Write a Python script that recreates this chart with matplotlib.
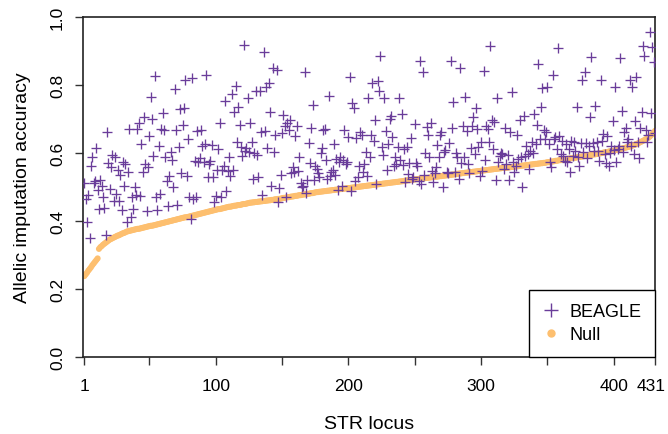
import matplotlib
matplotlib.use("Agg")
import matplotlib.pyplot as plt
import matplotlib.transforms as mtransforms
from matplotlib.lines import Line2D

plt.rcParams['font.family'] = ['Liberation Sans', 'DejaVu Sans']

# Null accuracy per STR locus (sorted)
null_acc = [
    0.238, 0.243, 0.248, 0.254, 0.259, 0.264, 0.270, 0.275, 0.280, 0.285, 0.290,
    0.318, 0.323, 0.326, 0.330, 0.333, 0.336, 0.339, 0.342, 0.345,
    0.347, 0.349, 0.351, 0.353, 0.355, 0.357, 0.358, 0.360, 0.362, 0.364, 0.365, 0.367, 0.369,
    0.370, 0.371, 0.372, 0.373, 0.374, 0.375, 0.376, 0.377, 0.377, 0.378, 0.379, 0.380,
    0.381, 0.382, 0.383, 0.384, 0.385, 0.386, 0.386, 0.387, 0.388, 0.389, 0.390, 0.391,
    0.392, 0.393, 0.394, 0.395, 0.396, 0.397, 0.398, 0.399, 0.400, 0.401, 0.402, 0.403, 0.404,
    0.405, 0.406, 0.407, 0.408, 0.409, 0.410, 0.411, 0.411, 0.412, 0.413, 0.414, 0.415, 0.416,
    0.417, 0.418, 0.419, 0.420, 0.421, 0.422, 0.423, 0.424, 0.425, 0.426, 0.427, 0.428,
    0.429, 0.430, 0.431, 0.432, 0.433, 0.434, 0.435, 0.435, 0.436, 0.437, 0.438, 0.439, 0.440,
    0.441, 0.442, 0.442, 0.443, 0.444, 0.445, 0.445, 0.446, 0.447, 0.447, 0.448, 0.449, 0.450,
    0.450, 0.451, 0.452, 0.453,
    0.454, 0.454, 0.455, 0.455, 0.456, 0.456, 0.457, 0.457, 0.458, 0.458, 0.459, 0.459, 0.460,
    0.460, 0.461, 0.461, 0.462, 0.462, 0.463, 0.464, 0.464, 0.465, 0.465, 0.466, 0.467,
    0.468, 0.468, 0.469, 0.470, 0.470, 0.471, 0.472, 0.472, 0.473, 0.474, 0.474, 0.475, 0.476,
    0.476, 0.477, 0.478, 0.478, 0.479, 0.480, 0.480, 0.481, 0.482, 0.482, 0.483, 0.484,
    0.485, 0.485, 0.486, 0.486, 0.487, 0.487, 0.488, 0.488, 0.489, 0.489, 0.490, 0.490, 0.491,
    0.491, 0.492, 0.492, 0.493, 0.493, 0.494, 0.494, 0.495, 0.495, 0.496, 0.496, 0.497, 0.497,
    0.498, 0.498, 0.499, 0.499,
    0.500, 0.500, 0.501, 0.501, 0.502, 0.502, 0.503, 0.503, 0.504, 0.504, 0.505, 0.505, 0.506,
    0.506, 0.507, 0.507, 0.508, 0.508, 0.509, 0.509, 0.510, 0.510, 0.511, 0.511, 0.512, 0.512,
    0.513, 0.513, 0.514, 0.514, 0.515, 0.515, 0.516, 0.516, 0.517, 0.517, 0.518, 0.519,
    0.519, 0.520, 0.520, 0.521, 0.521, 0.522, 0.522, 0.523, 0.523, 0.524, 0.524, 0.525, 0.525,
    0.526, 0.526, 0.527, 0.527, 0.528, 0.528, 0.529, 0.529, 0.530, 0.530, 0.531, 0.531, 0.532,
    0.532, 0.533, 0.533, 0.534, 0.534, 0.535, 0.535, 0.536, 0.536, 0.537, 0.537, 0.538,
    0.539, 0.539, 0.540, 0.540, 0.541, 0.541, 0.542, 0.542, 0.543, 0.543, 0.544, 0.544, 0.545,
    0.545, 0.546, 0.546, 0.547, 0.547, 0.548, 0.548, 0.549, 0.549, 0.550, 0.550, 0.551, 0.551,
    0.552, 0.552, 0.553, 0.553, 0.554, 0.554, 0.555, 0.555, 0.556, 0.556, 0.556,
    0.557, 0.557, 0.558, 0.558, 0.559, 0.559, 0.560, 0.560, 0.561, 0.561, 0.562, 0.562, 0.563,
    0.563, 0.564, 0.564, 0.565, 0.565, 0.566, 0.566, 0.567, 0.567, 0.568, 0.568, 0.569, 0.569,
    0.570, 0.570, 0.571, 0.571, 0.572,
    0.573, 0.573, 0.574, 0.575, 0.575, 0.576, 0.577, 0.577, 0.578, 0.579, 0.579, 0.580, 0.581,
    0.581, 0.582, 0.583, 0.583, 0.584, 0.585, 0.585,
    0.586, 0.586, 0.587, 0.588, 0.588, 0.589, 0.590, 0.590, 0.591, 0.592, 0.592, 0.593, 0.594,
    0.594, 0.595, 0.596, 0.596, 0.597,
    0.598, 0.599, 0.599, 0.600, 0.601, 0.602, 0.602, 0.603, 0.604, 0.605, 0.605, 0.606, 0.607,
    0.608, 0.609, 0.610, 0.611, 0.612, 0.613, 0.614, 0.615, 0.616, 0.617, 0.618, 0.619, 0.620,
    0.622, 0.623, 0.625, 0.626, 0.628, 0.630, 0.632,
    0.634, 0.636, 0.638, 0.640, 0.643, 0.645, 0.648, 0.652,
    0.656, 0.660, 0.665,
]

# BEAGLE accuracy per STR locus (same ordering)
beagle_acc = [
    0.512, 0.465, 0.398, 0.477, 0.350, 0.563, 0.589, 0.512, 0.517, 0.615, 0.491, 0.435, 0.520,
    0.504, 0.470, 0.438, 0.360, 0.661, 0.570, 0.494, 0.558, 0.594, 0.460, 0.589, 0.479, 0.550,
    0.460, 0.535, 0.432, 0.573, 0.504, 0.568, 0.396, 0.543, 0.671, 0.411, 0.470, 0.435, 0.500,
    0.477, 0.671, 0.687, 0.473, 0.626, 0.543, 0.707, 0.568, 0.430, 0.560, 0.651, 0.766, 0.700,
    0.591, 0.827, 0.470, 0.432, 0.622, 0.480, 0.671, 0.717, 0.668, 0.587, 0.517, 0.445, 0.533,
    0.602, 0.580, 0.501, 0.788, 0.668, 0.448,
    0.617, 0.729, 0.541, 0.683, 0.731, 0.816, 0.531, 0.641, 0.472, 0.406, 0.820, 0.465, 0.577,
    0.470, 0.666, 0.573, 0.585, 0.669, 0.622, 0.575, 0.626, 0.829, 0.528, 0.568, 0.577, 0.624,
    0.528, 0.457, 0.473, 0.550, 0.612, 0.687, 0.470, 0.551, 0.563, 0.754, 0.487, 0.548, 0.589,
    0.533, 0.775, 0.550, 0.722, 0.798, 0.631, 0.734, 0.683, 0.617, 0.592, 0.919, 0.607, 0.615,
    0.762, 0.602, 0.688, 0.631, 0.524, 0.600, 0.783, 0.595, 0.528, 0.783, 0.661, 0.477, 0.898,
    0.664, 0.793, 0.614, 0.805, 0.720, 0.504, 0.849, 0.602, 0.654, 0.845,
    0.457, 0.496, 0.536, 0.658, 0.712, 0.678, 0.470, 0.688, 0.668, 0.698, 0.541, 0.560, 0.545,
    0.651, 0.680, 0.548, 0.587, 0.512, 0.499, 0.504, 0.839, 0.481, 0.520, 0.628, 0.571, 0.675,
    0.742, 0.522, 0.563, 0.553, 0.541, 0.530, 0.600, 0.615, 0.669, 0.671, 0.580, 0.524, 0.769,
    0.533, 0.545, 0.550, 0.626, 0.535, 0.582, 0.492, 0.573, 0.589, 0.504, 0.580, 0.668, 0.568,
    0.575, 0.646, 0.825, 0.489, 0.747, 0.731, 0.519, 0.643, 0.530, 0.563, 0.663, 0.653, 0.543,
    0.568, 0.602, 0.533, 0.762, 0.589, 0.653, 0.806, 0.634,
    0.698, 0.509, 0.811, 0.783, 0.886, 0.617, 0.594, 0.762, 0.664, 0.550, 0.626, 0.700, 0.710,
    0.646, 0.563, 0.587, 0.568, 0.619, 0.761, 0.580, 0.715, 0.565, 0.612, 0.514, 0.617, 0.538,
    0.571, 0.643, 0.524, 0.530, 0.685, 0.570, 0.561, 0.519, 0.870, 0.509, 0.839, 0.535, 0.600,
    0.677, 0.653, 0.587, 0.687, 0.548, 0.514, 0.540, 0.560, 0.624, 0.589, 0.653, 0.663, 0.501,
    0.602, 0.610, 0.543, 0.540, 0.628, 0.870, 0.673, 0.751, 0.543, 0.599, 0.587, 0.524, 0.849,
    0.570, 0.680, 0.589, 0.766, 0.666, 0.568, 0.541, 0.614, 0.680,
    0.705, 0.597, 0.732, 0.671, 0.617, 0.533, 0.633, 0.548, 0.840, 0.580, 0.680, 0.671, 0.631,
    0.916, 0.697, 0.612, 0.690, 0.522, 0.761, 0.573, 0.592, 0.600, 0.597, 0.553, 0.675, 0.568,
    0.594, 0.522, 0.663, 0.780, 0.573, 0.543, 0.563, 0.653, 0.582, 0.698, 0.587, 0.499, 0.710,
    0.592, 0.620, 0.597, 0.553, 0.607, 0.631, 0.600, 0.715, 0.626, 0.682, 0.862, 0.641, 0.734,
    0.791, 0.669, 0.641, 0.661, 0.795, 0.626, 0.573, 0.558, 0.829, 0.641, 0.646, 0.612, 0.908,
    0.651, 0.597, 0.636, 0.592, 0.577, 0.626, 0.575, 0.612, 0.543,
    0.636, 0.592, 0.631, 0.607, 0.736, 0.587, 0.563, 0.629, 0.815, 0.602, 0.839, 0.629, 0.584,
    0.620, 0.705, 0.881, 0.629, 0.607, 0.739, 0.633, 0.607, 0.577, 0.816, 0.636, 0.656, 0.597,
    0.571, 0.651, 0.563, 0.600, 0.622, 0.695, 0.610, 0.793, 0.573, 0.612, 0.622, 0.878, 0.725,
    0.602, 0.661, 0.675, 0.631, 0.640, 0.815, 0.622, 0.793, 0.597, 0.695, 0.823, 0.631, 0.584,
    0.675, 0.720, 0.916, 0.886, 0.668, 0.631, 0.653, 0.955, 0.717, 0.911, 0.867, 0.660,
]

loci = list(range(1, len(null_acc) + 1))
x_ticks = [1, 50, 100, 150, 200, 250, 300, 350, 400, 431]
x_tick_labels = ["1", "", "100", "", "200", "", "300", "", "400", "431"]
y_ticks = [0.0, 0.2, 0.4, 0.6, 0.8, 1.0]
y_tick_labels = ["0.0", "0.2", "0.4", "0.6", "0.8", "1.0"]

purple = "#6A3D9A"
orange = "#FDBF6F"

fig = plt.figure(figsize=(6.68, 4.35), dpi=100)
ax = fig.add_axes([0.1243, 0.177, 0.9805 - 0.1243, 0.9586 - 0.177])

ax.scatter(loci, null_acc, s=19, color=orange, edgecolors='none', zorder=2)
ax.scatter(loci, beagle_acc, s=50, marker='+', color=purple, linewidths=0.95, zorder=3)

ax.set_xlim(0, 431)
ax.set_ylim(0, 1)
ax.set_xticks(x_ticks)
ax.set_xticklabels(x_tick_labels, fontsize=12.5)
ax.set_yticks(y_ticks)
ax.set_yticklabels(y_tick_labels, fontsize=12.5, rotation=90, va='center')
ax.tick_params(axis='both', direction='out', length=6, width=1.0, color='#333333')
ax.tick_params(axis='x', pad=9)
ax.tick_params(axis='y', pad=7)
for s in ax.spines.values():
    s.set_linewidth(1.2)
    s.set_color('#222222')

# nudge the last x label a bit left so it stays inside the figure
last = ax.get_xticklabels()[-1]
last.set_transform(last.get_transform() +
                   mtransforms.ScaledTranslation(-4 / 100, 0, fig.dpi_scale_trans))

ax.set_xlabel("STR locus", fontsize=14, labelpad=16)
ax.set_ylabel("Allelic imputation accuracy", fontsize=14, labelpad=14)

handles = [
    Line2D([], [], marker='+', linestyle='none', color=purple, markersize=10, markeredgewidth=1.0),
    Line2D([], [], marker='o', linestyle='none', color=orange, markersize=5),
]
leg = ax.legend(handles, ["BEAGLE", "Null"], loc='lower right', fontsize=13,
                frameon=True, fancybox=False, edgecolor='black', framealpha=1,
                borderaxespad=0, handlelength=1.0, handletextpad=0.5,
                borderpad=0.75, labelspacing=0.35)
leg.get_frame().set_linewidth(1.0)

fig.savefig("out.png", dpi=100)
